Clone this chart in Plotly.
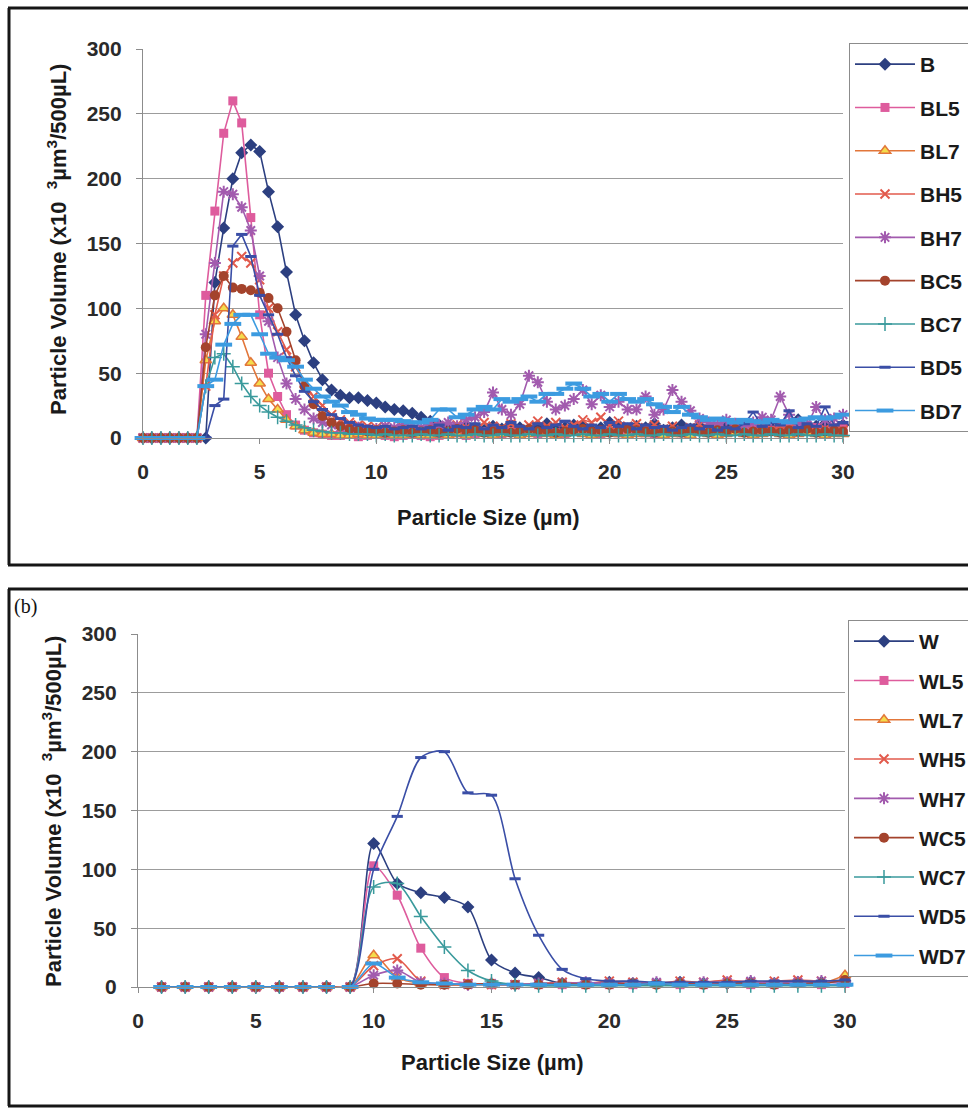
import plotly.graph_objects as go

# ---------------- panel (a): particle size distributions, B series ----------------
size_a = [0.0, 0.38, 0.77, 1.15, 1.54, 1.92, 2.31, 2.69, 3.08, 3.46,
          3.85, 4.23, 4.62, 5.0, 5.38, 5.77, 6.15, 6.54, 6.92, 7.31,
          7.69, 8.08, 8.46, 8.85, 9.23, 9.62, 10.0, 10.38, 10.77, 11.15,
          11.54, 11.92, 12.31, 12.69, 13.08, 13.46, 13.85, 14.23, 14.62, 15.0,
          15.38, 15.77, 16.15, 16.54, 16.92, 17.31, 17.69, 18.08, 18.46, 18.85,
          19.23, 19.62, 20.0, 20.38, 20.77, 21.15, 21.54, 21.92, 22.31, 22.69,
          23.08, 23.46, 23.85, 24.23, 24.62, 25.0, 25.38, 25.77, 26.15, 26.54,
          26.92, 27.31, 27.69, 28.08, 28.46, 28.85, 29.23, 29.62, 30.0]

vol_B = [0, 0, 0, 0, 0, 0, 0, 0, 120, 162,
         200, 220, 226, 221, 190, 163, 128, 95, 75, 58,
         45, 37, 33, 31, 31, 29, 27, 24, 22, 21,
         19, 16, 13, 10, 9, 7, 10, 8, 6, 9,
         7, 10, 8, 6, 9, 11, 7, 8, 10, 9,
         6, 8, 12, 10, 7, 9, 8, 11, 6, 8,
         10, 7, 9, 5, 8, 10, 7, 6, 9, 12,
         8, 7, 10, 14, 8, 9, 11, 7, 10]
vol_BL5 = [0, 0, 0, 0, 0, 0, 0, 110, 175, 235,
           260, 243, 170, 95, 50, 32, 18, 10, 6, 4,
           3, 2, 2, 3, 1, 2, 3, 2, 1, 2,
           3, 2, 1, 2, 3, 4, 2, 3, 5, 4,
           3, 5, 4, 6, 3, 5, 4, 3, 5, 6,
           4, 3, 5, 4, 6, 5, 4, 3, 6, 5,
           4, 6, 5, 7, 6, 5, 8, 6, 9, 7,
           6, 8, 10, 7, 9, 8, 6, 8, 7]
vol_BL7 = [0, 0, 0, 0, 0, 0, 0, 60, 90, 100,
           95, 78, 58, 42, 30, 22, 14, 9, 6, 4,
           3, 3, 2, 2, 3, 2, 2, 3, 2, 2,
           3, 2, 2, 3, 2, 3, 2, 4, 3, 2,
           3, 4, 2, 3, 4, 3, 2, 3, 4, 3,
           2, 3, 4, 3, 2, 3, 3, 4, 2, 3,
           3, 2, 4, 3, 2, 3, 4, 3, 2, 3,
           4, 3, 2, 3, 4, 3, 2, 3, 3]
vol_BH5 = [0, 0, 0, 0, 0, 0, 0, 40, 95, 125,
           135, 140, 135, 122, 100, 82, 68, 55, 42, 32,
           25, 18, 14, 12, 10, 9, 8, 9, 7, 8,
           6, 8, 7, 9, 6, 10, 8, 7, 12, 9,
           8, 11, 7, 10, 13, 9, 12, 8, 10, 14,
           12, 16, 10, 13, 9, 11, 8, 10, 7, 9,
           6, 8, 10, 7, 9, 6, 8, 7, 5, 8,
           6, 9, 7, 5, 8, 6, 7, 5, 6]
vol_BH7 = [0, 0, 0, 0, 0, 0, 0, 80, 135, 190,
           188, 178, 160, 125, 90, 62, 42, 30, 22, 15,
           12, 10, 8, 7, 8, 6, 7, 9, 8, 10,
           9, 8, 11, 10, 12, 9, 14, 16, 20, 35,
           22, 18, 26, 48, 43, 28, 22, 25, 30, 37,
           26, 33, 24, 28, 22, 22, 32, 18, 22, 37,
           28, 21, 15, 12, 10, 14, 11, 9, 12, 16,
           14, 32, 18, 12, 10, 24, 14, 15, 18]
vol_BC5 = [0, 0, 0, 0, 0, 0, 0, 70, 110, 125,
           116, 115, 114, 112, 108, 100, 82, 60, 40, 26,
           17, 12, 9, 7, 6, 5, 6, 4, 5, 6,
           4, 5, 6, 4, 5, 7, 5, 6, 4, 5,
           6, 4, 5, 7, 5, 6, 4, 5, 6, 7,
           5, 6, 4, 5, 7, 6, 5, 4, 6, 5,
           4, 6, 5, 4, 6, 5, 7, 4, 5, 6,
           5, 4, 6, 5, 7, 4, 5, 6, 5]
vol_BC7 = [0, 0, 0, 0, 0, 0, 0, 40, 62, 65,
           55, 42, 32, 25, 20, 16, 13, 10, 8, 6,
           5, 4, 4, 3, 3, 3, 2, 3, 2, 2,
           2, 3, 2, 2, 3, 2, 2, 3, 2, 2,
           3, 2, 2, 3, 2, 2, 3, 2, 2, 3,
           2, 2, 3, 2, 2, 3, 2, 2, 3, 2,
           2, 3, 2, 2, 3, 2, 2, 3, 2, 2,
           3, 2, 2, 3, 2, 2, 3, 2, 2]
vol_BD5 = [0, 0, 0, 0, 0, 0, 0, 0, 25, 30,
           148, 157, 140, 110, 95, 80, 62, 48, 36, 28,
           22, 18, 15, 12, 10, 9, 8, 9, 7, 8,
           9, 7, 8, 10, 6, 9, 8, 11, 7, 10,
           8, 12, 9, 7, 11, 8, 10, 13, 9, 7,
           10, 8, 12, 9, 11, 7, 10, 8, 9, 6,
           8, 10, 7, 9, 6, 8, 7, 11, 20, 9,
           12, 10, 21, 8, 11, 9, 24, 10, 12]
vol_BD7 = [0, 0, 0, 0, 0, 0, 0, 40, 45, 72,
           88, 95, 95, 80, 65, 62, 60, 55, 45, 38,
           32, 28, 25, 20, 18, 15, 14, 14, 14, 13,
           12, 12, 14, 22, 22, 16, 18, 22, 24, 22,
           30, 28, 30, 32, 28, 34, 34, 38, 42, 38,
           32, 34, 28, 34, 30, 28, 30, 26, 24, 20,
           24, 18, 16, 14, 15, 14, 12, 14, 13, 12,
           14, 13, 12, 14, 15, 16, 15, 16, 18]

names_a = ["B", "BL5", "BL7", "BH5", "BH7", "BC5", "BC7", "BD5", "BD7"]
values_a = [vol_B, vol_BL5, vol_BL7, vol_BH5, vol_BH7, vol_BC5, vol_BC7, vol_BD5, vol_BD7]

# ---------------- panel (b): particle size distributions, W series ----------------
size_b = list(range(1, 31))
vol_W = [0, 0, 0, 0, 0, 0, 0, 0, 0,
         122, 88, 80, 76, 68, 23, 12, 8, 3, 3, 4, 3, 3, 4, 3, 3, 4, 3, 4, 4, 5]
vol_WL5 = [0, 0, 0, 0, 0, 0, 0, 0, 0,
           103, 78, 33, 8, 3, 2, 2, 2, 2, 2, 2, 2, 3, 2, 2, 3, 2, 2, 3, 2, 3]
vol_WL7 = [0, 0, 0, 0, 0, 0, 0, 0, 0,
           27, 8, 3, 2, 2, 2, 2, 2, 2, 2, 2, 2, 2, 2, 2, 2, 3, 2, 3, 3, 10]
vol_WH5 = [0, 0, 0, 0, 0, 0, 0, 0, 0,
           18, 24, 5, 2, 3, 2, 2, 3, 4, 3, 5, 4, 3, 5, 4, 6, 4, 5, 6, 5, 6]
vol_WH7 = [0, 0, 0, 0, 0, 0, 0, 0, 0,
           10, 14, 4, 3, 2, 3, 2, 3, 3, 4, 3, 3, 4, 3, 4, 4, 5, 3, 4, 5, 4]
vol_WC5 = [0, 0, 0, 0, 0, 0, 0, 0, 0,
           3, 3, 2, 2, 2, 3, 2, 2, 3, 2, 2, 3, 2, 3, 2, 3, 3, 2, 3, 3, 6]
vol_WC7 = [0, 0, 0, 0, 0, 0, 0, 0, 0,
           85, 88, 60, 34, 14, 5, 2, 1, 1, 1, 1, 1, 1, 1, 1, 1, 1, 1, 1, 1, 1]
vol_WD5 = [0, 0, 0, 0, 0, 0, 0, 0, 0,
           100, 145, 195, 200, 165, 163, 92, 44, 15, 7, 5, 5, 4, 4, 4, 4, 5, 5, 5, 5, 6]
vol_WD7 = [0, 0, 0, 0, 0, 0, 0, 0, 0,
           20, 8, 4, 3, 2, 2, 2, 2, 2, 2, 2, 2, 3, 2, 2, 2, 2, 2, 2, 2, 2]

names_b = ["W", "WL5", "WL7", "WH5", "WH7", "WC5", "WC7", "WD5", "WD7"]
values_b = [vol_W, vol_WL5, vol_WL7, vol_WH5, vol_WH7, vol_WC5, vol_WC7, vol_WD5, vol_WD7]

# marker style per treatment (shared by both panels)
styles = [
    dict(color="#2C3F80", symbol="diamond", size=10, fill="#2C3F80", lw=0),
    dict(color="#DE5C9D", symbol="square", size=9, fill="#DE5C9D", lw=0),
    dict(color="#E2763A", symbol="triangle-up", size=10, fill="#F4DC4C", lw=1.5),
    dict(color="#E25A4C", symbol="x-thin-open", size=9, fill="#E25A4C", lw=2),
    dict(color="#A25BAE", symbol="asterisk-open", size=10, fill="#A25BAE", lw=2),
    dict(color="#A4432C", symbol="circle", size=10, fill="#A4432C", lw=0),
    dict(color="#3A9A9C", symbol="cross-thin-open", size=10, fill="#3A9A9C", lw=1.5),
    dict(color="#3A4EA6", symbol="line-ew-open", size=8, fill="#3A4EA6", lw=3),
    dict(color="#3C9BE0", symbol="line-ew-open", size=12, fill="#3C9BE0", lw=4),
]

W, H = 968, 1109


def px_x(p):
    return p / W


def px_y(p):
    return 1 - p / H


fig = go.Figure()

for i, (nm, vals) in enumerate(zip(names_a, values_a)):
    st = styles[i]
    fig.add_trace(go.Scatter(
        x=size_a, y=vals, name=nm, mode="lines+markers",
        line=dict(color=st["color"], width=1.6),
        marker=dict(symbol=st["symbol"], size=st["size"], color=st["fill"],
                    line=dict(color=st["color"], width=st["lw"])),
        cliponaxis=False, legend="legend", legendgroup=nm,
        xaxis="x", yaxis="y",
    ))

for i, (nm, vals) in enumerate(zip(names_b, values_b)):
    st = styles[i]
    fig.add_trace(go.Scatter(
        x=size_b, y=vals, name=nm, mode="lines+markers",
        line=dict(color=st["color"], width=1.6, shape="spline", smoothing=0.8),
        marker=dict(symbol=st["symbol"], size=st["size"], color=st["fill"],
                    line=dict(color=st["color"], width=st["lw"])),
        cliponaxis=False, legend="legend2", legendgroup=nm,
        xaxis="x2", yaxis="y2",
    ))

FONT = "Liberation Sans, Arial, sans-serif"
tick_font = dict(family=FONT, size=21, color="#2a2a2a", weight="bold")
title_font = dict(family=FONT, size=22, color="#1a1a1a", weight="bold")

x_common = dict(range=[0, 30], tickvals=[0, 5, 10, 15, 20, 25, 30], showgrid=False,
                zeroline=False, showline=True, linecolor="#8c8c8c", linewidth=1.2,
                ticks="outside", ticklen=5, tickcolor="#8c8c8c", tickfont=tick_font,
                ticklabelstandoff=10)
y_common = dict(range=[0, 300], tickvals=[0, 50, 100, 150, 200, 250, 300], showgrid=True,
                gridcolor="#9c9c9c", gridwidth=1.3, zeroline=False, showline=True,
                linecolor="#8c8c8c", linewidth=1.2, ticks="outside", ticklen=6,
                tickcolor="#8c8c8c", tickfont=tick_font, ticklabelstandoff=10)

legend_common = dict(xanchor="left", yanchor="top", bgcolor="white", bordercolor="#8c8c8c",
                     borderwidth=1, font=dict(family=FONT, size=21, color="#1a1a1a", weight="bold"),
                     traceorder="grouped", itemwidth=60)

fig.update_layout(
    width=W, height=H, autosize=False,
    margin=dict(l=0, r=0, t=0, b=0, autoexpand=False),
    paper_bgcolor="white", plot_bgcolor="white",
    xaxis=dict(domain=[px_x(143), px_x(843)], anchor="y", **x_common),
    yaxis=dict(domain=[px_y(438), px_y(49)], anchor="x", **y_common),
    xaxis2=dict(domain=[px_x(138), px_x(845)], anchor="y2", **x_common),
    yaxis2=dict(domain=[px_y(987), px_y(634)], anchor="x2", **y_common),
    legend=dict(x=px_x(849), y=px_y(43), tracegroupgap=13, **legend_common),
    legend2=dict(x=px_x(848), y=px_y(620), tracegroupgap=9, **legend_common),
)

# axis titles
ytitle = "Particle Volume (x10  <sup>3</sup>µm<sup>3</sup>/500µL)"
xtitle = "Particle Size (µm)"
centered = dict(xref="paper", yref="paper", xanchor="center", yanchor="middle",
                showarrow=False, font=title_font)
fig.add_annotation(x=px_x(488), y=px_y(517), text=xtitle, **centered)
fig.add_annotation(x=px_x(492), y=px_y(1062), text=xtitle, **centered)
fig.add_annotation(x=px_x(57), y=px_y(240), text=ytitle, textangle=-90, **centered)
fig.add_annotation(x=px_x(52), y=px_y(812), text=ytitle, textangle=-90, **centered)
fig.add_annotation(x=px_x(12), y=px_y(606), xref="paper", yref="paper", text="(b)",
                   xanchor="left", yanchor="middle", showarrow=False,
                   font=dict(family="Liberation Serif, Times New Roman, serif", size=20, color="#111"))

# panel frames
frame = dict(type="line", xref="paper", yref="paper", line=dict(color="#161616", width=3))
for y0, y1 in [(8, 565), (589, 1106)]:
    fig.add_shape(x0=px_x(9), x1=px_x(9), y0=px_y(y0), y1=px_y(y1), **frame)
    fig.add_shape(x0=px_x(8), x1=px_x(975), y0=px_y(y0), y1=px_y(y0), **frame)
    fig.add_shape(x0=px_x(8), x1=px_x(975), y0=px_y(y1), y1=px_y(y1), **frame)

fig.write_html("out.html")
